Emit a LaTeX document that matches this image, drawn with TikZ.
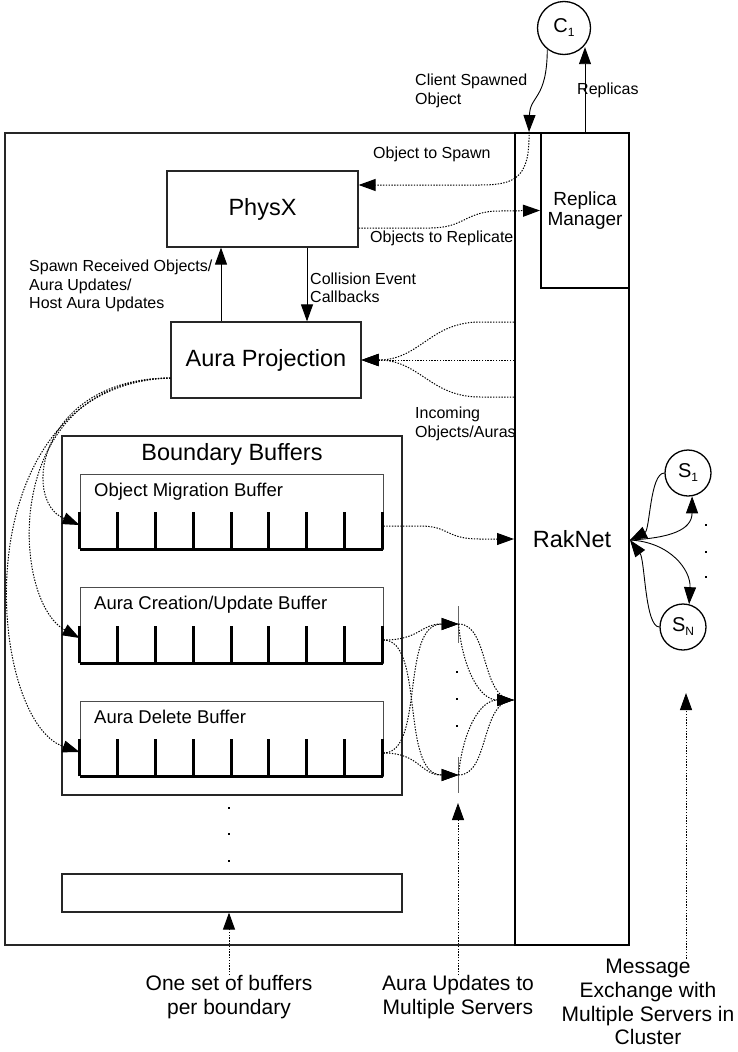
\documentclass[tikz,border=0pt]{standalone}
\usepackage{fontspec}
\setmainfont{Liberation Sans}
\usetikzlibrary{arrows.meta,calc}
\begin{document}
\begin{tikzpicture}[x=1pt,y=-1pt,
  ibox/.style={draw=black!85, line width=1.2pt, inner sep=0pt},
  thinbox/.style={draw=black!70, line width=0.9pt, inner sep=0pt},
  heavybox/.style={draw=black, line width=2pt, inner sep=0pt},
  tipa/.style={-{Triangle[length=17pt,width=12pt]}},
  dotline/.style={dash pattern=on 1.4pt off 1.4pt, line width=1pt},
  solidline/.style={line width=0.9pt},
  smalltext/.style={font=\fontsize{16}{18.5}\selectfont, inner sep=0pt, align=left},
  bigtext/.style={font=\fontsize{23.5}{27}\selectfont},
  buftext/.style={font=\fontsize{18.5}{21}\selectfont, inner sep=0pt},
  bottomtext/.style={font=\fontsize{21}{23.8}\selectfont, inner sep=0pt, align=center},
  buftick/.style={line width=3pt, draw=black},
  srv/.style={circle, draw=black, line width=1.3pt, inner sep=0pt, font=\fontsize{20}{20}\selectfont},
  dotmark/.style={fill=black, inner sep=0pt, minimum size=2.4pt},
]
\useasboundingbox (0,0) rectangle (738,1052);
\fill[white] (0,0) rectangle (738,1052);

% main frames
\node[ibox, minimum width=510pt, minimum height=812pt] (outer) at (260,539) {};
\node[heavybox, minimum width=114pt, minimum height=812pt, bigtext] (rak) at (572,539) {RakNet};
\node[heavybox, minimum width=88pt, minimum height=155pt, align=center, font=\fontsize{19}{20}\selectfont] (rep) at (585,210.5) {Replica\\Manager};

% client
\node[srv, minimum size=53pt] (c1) at (564,28) {C\raisebox{-4pt}{\fontsize{12}{12}\selectfont 1}};

% physx / aura
\node[ibox, minimum width=191pt, minimum height=76pt, bigtext] (physx) at (262.5,209) {PhysX};
\node[ibox, minimum width=190pt, minimum height=76pt, bigtext] (aura) at (266,360) {Aura Projection};

% boundary buffers
\node[ibox, minimum width=340pt, minimum height=359pt] (bb) at (232,615.5) {};
\node[bigtext, inner sep=0pt] (bbl) at (232,454) {Boundary Buffers};

\node[thinbox, minimum width=303pt, minimum height=75pt] (omb) at (231.5,511.5) {};
\node[thinbox, minimum width=303pt, minimum height=76pt] (acu) at (231.5,625) {};
\node[thinbox, minimum width=303pt, minimum height=75pt] (adb) at (231.5,738.5) {};
\node[buftext, anchor=base west] (ombl) at (94,496) {Object Migration Buffer};
\node[buftext, anchor=base west] (acul) at (94,609) {Aura Creation/Update Buffer};
\node[buftext, anchor=base west] (adbl) at (94,723) {Aura Delete Buffer};
\foreach \b in {omb,acu,adb}{
  \foreach \k in {0,...,8}{
    \draw[buftick] ($(\b.south west)+(37.875*\k,0)$) -- ++(0,-37.5);
  }
  \draw[buftick] (\b.south west) -- (\b.south east);
}

\node[dotmark] (d1) at (229,808) {};
\node[dotmark] (d2) at (229,834) {};
\node[dotmark] (d3) at (229,861) {};
\node[ibox, minimum width=340pt, minimum height=38pt] (last) at (232,893) {};

% server lines
\coordinate (su) at (458.5,624);
\coordinate (sl) at (458.5,775);
\coordinate (slb) at (458.5,803);
\draw[black!60, line width=1pt] (458.5,606) -- (458.5,643);
\draw[black!60, line width=1pt] (458.5,757) -- (458.5,793);
\node[dotmark] (e1) at (457,672) {};
\node[dotmark] (e2) at (457,699) {};
\node[dotmark] (e3) at (457,726) {};

% servers
\node[srv, minimum size=46pt] (s1) at (688,473) {S\raisebox{-4pt}{\fontsize{12}{12}\selectfont 1}};
\node[srv, minimum size=46pt] (sn) at (683,627) {S\raisebox{-4pt}{\fontsize{12}{12}\selectfont N}};
\node[dotmark] (f1) at (706,525) {};
\node[dotmark] (f2) at (706,552) {};
\node[dotmark] (f3) at (706,577) {};

% labels
\node[smalltext, anchor=west] (lcs) at (415,91) {Client Spawned\\Object};
\node[smalltext, anchor=west] (lrep) at (577,90) {Replicas};
\node[smalltext, anchor=west] (lots) at (373,154) {Object to Spawn};
\node[smalltext, anchor=west] (lotr) at (370,238) {Objects to Replicate};
\node[smalltext, anchor=west] (lsro) at (29,286) {Spawn Received Objects/\\Aura Updates/\\Host Aura Updates};
\node[smalltext, anchor=west] (lcol) at (310,288) {Collision Event\\Callbacks};
\node[smalltext, anchor=west] (linc) at (415,424) {Incoming\\Objects/Auras};

\node[bottomtext] (lb1) at (229,997) {One set of buffers\\per boundary};
\node[bottomtext] (lb2) at (458,997) {Aura Updates to\\Multiple Servers};
\node[bottomtext] (lb3) at (648,1002) {Message\\Exchange with\\Multiple Servers in\\Cluster};
\coordinate (msgend) at (686,693);

% connectors: client
\draw[solidline, tipa] (rep.north) -- (rep.north |- c1.-45);
\coordinate (spawnpt) at ([xshift=15pt]rak.north west);
\draw[solidline, tipa] (c1.-128) .. controls (547,100) and (530,95) .. (spawnpt);
\draw[dotline, tipa] (spawnpt) .. controls (530,178) and (515,185) .. (480,185) -- ([yshift=24pt]physx.east);
\draw[dotline, tipa] ([yshift=-19pt]physx.east) -- (430,228) .. controls (465,228) and (465,211) .. (500,211) -- (rep.west);

% physx <-> aura
\draw[solidline, tipa] ([xshift=-45pt]aura.north) -- ([xshift=-45pt]aura.north |- physx.south);
\draw[solidline, tipa] ([xshift=44.5pt]physx.south) -- ([xshift=44.5pt]physx.south |- aura.north);

% incoming
\draw[dotline, tipa] ([yshift=217pt]rak.west) -- (480,322) .. controls (430,322) and (420,360) .. (aura.east);
\draw[dotline, tipa] ([yshift=179pt]rak.west) -- (aura.east);
\draw[dotline, tipa] ([yshift=142pt]rak.west) -- (480,397) .. controls (430,397) and (420,360) .. (aura.east);

% aura to buffers
\draw[dotline, tipa] ([yshift=-18pt]aura.west) .. controls (40,378) and (20,500) .. ([yshift=-13.5pt]omb.west);
\draw[dotline, tipa] ([yshift=-18pt]aura.west) .. controls (0,380) and (10,600) .. ([yshift=-13pt]acu.west);
\draw[dotline, tipa] ([yshift=-18pt]aura.west) .. controls (-40,385) and (-15,720) .. ([yshift=-13.5pt]adb.west);

% migration to raknet
\draw[dotline, tipa] ([yshift=-14.5pt]omb.east) -- (420,526) .. controls (450,526) and (445,539) .. (480,539) -- (rak.west);

% buffers to servers
\draw[dotline, tipa] ([yshift=-15pt]acu.east) .. controls (420,640) and (420,624) .. (su);
\draw[dotline, tipa] ([yshift=-15pt]acu.east) .. controls (425,640) and (400,775) .. (sl);
\draw[dotline, tipa] ([yshift=-14.5pt]adb.east) .. controls (425,753) and (400,624) .. (su);
\draw[dotline, tipa] ([yshift=-14.5pt]adb.east) .. controls (420,753) and (420,775) .. (sl);
\draw[dotline] (su) .. controls (490,624) and (480,700) .. ([yshift=-161pt]rak.west);
\draw[dotline, tipa] (su) .. controls (463,670) and (480,700) .. ([yshift=-161pt]rak.west);
\draw[dotline] (sl) .. controls (490,775) and (480,700) .. ([yshift=-161pt]rak.west);
\draw[dotline, tipa] (sl) .. controls (463,730) and (480,700) .. ([yshift=-161pt]rak.west);

% servers
\draw[solidline, tipa] (s1.west) .. controls (650,473) and (650,530) .. ([yshift=-1pt]rak.east);
\draw[solidline, tipa] ([yshift=-1pt]rak.east) .. controls (670,538) and (692,530) .. (s1.-80);
\draw[solidline, tipa] ([yshift=-1pt]rak.east) .. controls (670,542) and (691,570) .. (sn.75);
\draw[solidline, tipa] (sn.west) .. controls (645,627) and (645,560) .. ([yshift=-1pt]rak.east);

% bottom arrows
\draw[dotline, tipa] (lb1.north) -- (lb1.north |- last.south);
\draw[dotline, tipa] (lb2.north) -- (lb2.north |- slb);
\draw[dotline, tipa] ([xshift=38pt]lb3.north) -- (msgend);
\end{tikzpicture}
\end{document}
